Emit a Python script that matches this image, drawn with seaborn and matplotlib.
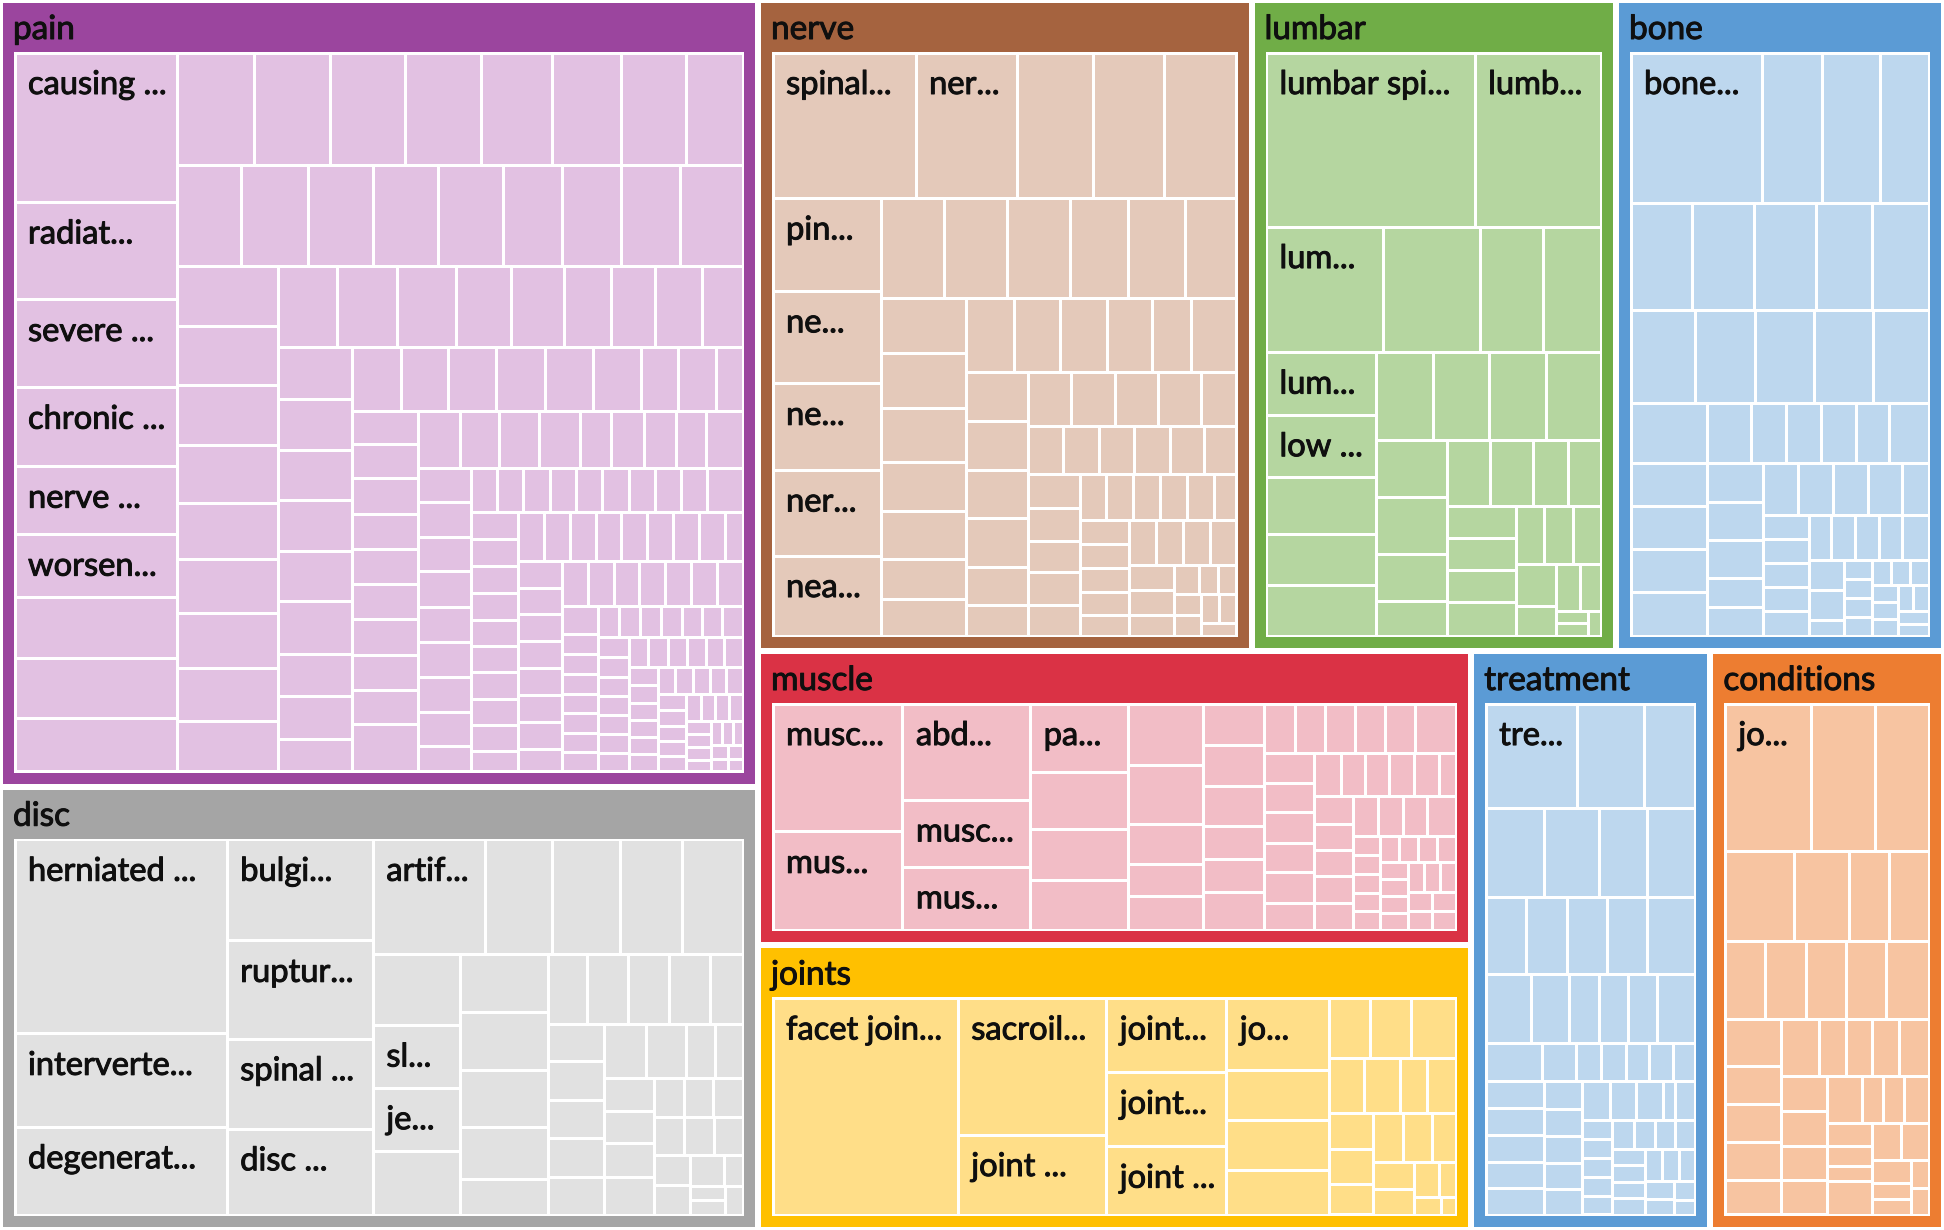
import matplotlib
matplotlib.use("Agg")
import matplotlib.pyplot as plt
from matplotlib.patches import Rectangle
import matplotlib.patheffects as pe
import seaborn as sns

# ---------------- data ----------------
groups = ["pain", "disc", "nerve", "lumbar", "bone", "muscle", "joints", "treatment", "conditions"]
group_totals = [388.0, 218.6, 209.0, 154.4, 138.9, 136.6, 132.0, 90.1, 88.0]

pain_values = [
    158.5, 103.5, 93.0, 83.8, 72.1, 66.8, 64.2, 64.2, 56.3,
    56.2, 55.5, 55.2, 55.5, 52.0, 50.6, 47.8, 41.1,
    42.1, 43.7, 43.3, 42.7, 42.7, 38.9, 39.2, 38.9, 41.1,
    39.0, 39.0, 39.0, 38.2, 36.5, 35.7, 35.7, 34.8, 33.2,
    30.8, 31.3, 30.6, 28.8, 27.6, 24.6, 23.0, 24.6, 21.3,
    25.0, 24.4, 24.4, 24.4, 23.7, 25.6, 20.0, 20.6, 15.6,
    20.4, 19.8, 19.8, 20.4, 20.2, 20.2, 15.5, 15.9, 10.9,
    14.2, 14.7, 15.6, 15.2, 15.2, 15.1, 15.5, 15.1, 14.8, 20.4,
    15.3, 14.6, 14.9, 14.9, 11.6, 12.2, 11.8, 11.2, 13.6,
    11.9, 11.9, 11.9, 12.2, 12.1, 12.1, 12.0, 11.9, 8.7,
    7.4, 7.7, 7.7, 7.6, 7.7, 7.7, 7.6, 7.7, 7.4, 10.4,
    8.1, 8.1, 8.2, 8.0, 8.0, 8.0, 7.9, 7.9, 7.9, 6.2,
    8.1, 8.3, 8.1, 8.1, 8.1, 8.1, 8.1, 8.3, 5.5,
    7.7, 7.7, 7.7, 7.7, 7.7, 7.7, 7.7, 6.5,
    7.6, 7.6, 7.6, 7.6, 7.6, 7.6, 7.6,
    6.5, 4.6, 4.6, 4.6, 4.5, 4.5, 4.5, 4.4, 4.4, 4.3, 4.3, 4.2, 4.2, 4.1, 4.1,
    4.0, 4.0, 3.9, 3.9, 3.9, 3.8, 3.8, 3.7, 3.7, 3.6, 3.6, 3.5, 3.5, 3.4, 3.4,
    3.3, 3.3, 3.2, 3.2, 3.1, 3.1, 3.0, 3.0, 2.9, 2.9, 2.8, 2.8, 2.7, 2.7, 2.6,
    2.5, 2.4, 2.3, 2.2, 2.1, 2.0, 1.9, 1.8, 1.7, 1.6, 1.5, 1.4, 1.3, 1.2,
]
pain_labels = {0: "causing ...", 1: "radiat...", 2: "severe ...", 3: "chronic ...",
               4: "nerve ...", 5: "worsen..."}

nerve_values = [
    135.1, 95.4, 72.0, 67.3, 67.9,
    65.6, 65.3, 61.2, 60.4, 56.5,
    41.1, 41.1, 40.7, 37.9, 36.9, 33.5,
    30.3, 30.0, 29.8, 27.1, 26.9, 22.0, 20.0,
    22.5, 22.1, 22.1, 21.8, 18.1, 21.6,
    19.6, 19.4, 19.2, 19.4, 15.1, 12.3,
    15.5, 15.7, 15.3, 15.3, 12.4,
    11.0, 11.1, 11.0, 11.1, 10.5, 10.1,
    11.3, 11.2, 10.7, 11.1, 10.4,
    7.9, 8.2, 8.1, 7.9, 8.1, 6.7,
    7.6, 7.6, 7.6, 7.5, 6.5,
    7.8, 7.7, 7.7, 7.6,
    7.5, 7.3, 6.0, 4.7, 3.6, 3.5, 3.5, 3.5, 3.3, 3.2, 3.0,
]
nerve_labels = {0: "spinal...", 1: "ner...", 5: "pin...", 6: "ne...", 7: "ne...",
                8: "ner...", 9: "nea..."}

lumbar_values = [
    236.6, 142.7,
    95.3, 79.9, 51.0, 47.4,
    44.8, 44.3, 40.7, 36.9, 36.0,
    32.6, 32.4, 32.6, 31.3,
    26.2, 26.4, 21.8, 15.8,
    18.8, 18.4, 15.1, 13.8,
    14.5, 14.3, 14.1, 15.2,
    10.8, 11.0, 10.4,
    11.0, 7.9, 7.2, 6.4, 2.5, 2.5, 2.0,
]
lumbar_labels = {0: "lumbar spi...", 1: "lumb...", 2: "lum...", 6: "lum...", 7: "low ..."}

bone_values = [
    128.7, 59.5, 57.2, 47.3,
    43.2, 43.6, 42.9, 39.7, 39.4,
    39.1, 36.3, 35.7, 35.7, 33.7,
    29.7, 16.8, 13.5, 13.5, 13.5, 13.1, 15.1,
    21.5, 21.5, 21.5, 21.9,
    14.4, 13.9, 13.9, 10.6, 10.6,
    11.9, 11.8, 11.8, 11.7, 9.0,
    7.2, 7.0, 7.2, 7.2, 7.2,
    6.6, 7.1, 7.1, 6.9, 7.7,
    7.0, 7.0, 3.5, 3.4, 3.4, 3.4, 3.3, 3.2, 3.1, 3.0, 2.9, 2.8, 2.8, 2.6, 2.6, 2.5, 2.4,
]
bone_labels = {0: "bone..."}

disc_values = [
    269.3, 129.6, 121.7,
    96.6, 94.0, 86.1, 81.9,
    83.7, 50.5, 50.5, 46.9, 45.1,
    40.5, 35.6, 36.0, 36.0,
    33.5, 33.3, 32.7, 29.7, 20.5,
    18.2, 18.7, 18.7, 18.7, 14.7,
    14.0, 14.5, 14.0, 14.5, 14.0,
    14.9, 14.2, 10.3, 9.8,
    10.7, 10.2, 11.0, 12.1,
    7.8, 7.4, 7.4, 7.4, 7.4, 7.1, 7.1, 7.1, 6.9, 3.8, 3.3, 3.3, 3.3,
]
disc_labels = {0: "herniated ...", 1: "interverte...", 2: "degenerat...", 3: "bulgi...",
               4: "ruptur...", 5: "spinal ...", 6: "disc ...", 7: "artif...",
               13: "sl...", 14: "je..."}

muscle_values = [
    108.0, 83.3,
    80.0, 55.5, 52.5,
    43.7, 36.1, 32.6, 31.9,
    29.9, 29.0, 19.7, 15.8, 16.4,
    16.5, 16.0, 15.6, 13.3, 13.0, 14.9,
    10.0, 9.7, 9.7, 10.0, 9.7, 13.1,
    9.4, 9.6, 10.1, 9.4, 9.8, 8.8,
    7.4, 6.7, 6.6, 7.0, 7.0, 4.5,
    7.0, 6.7, 6.7, 6.7, 6.9,
    6.5, 6.4, 6.4, 7.4,
    3.4, 3.3, 3.3, 3.3, 3.3, 3.2, 3.2, 3.2, 3.2, 3.1,
    3.1, 3.1, 3.1, 3.1, 3.1, 3.0, 3.0, 3.0, 3.0, 2.9,
]
muscle_labels = {0: "musc...", 1: "mus...", 2: "abd...", 3: "musc...", 4: "mus...", 5: "pa..."}

joints_values = [
    262.5,
    132.7, 77.7,
    58.3, 58.1, 53.7,
    48.0, 34.1, 33.3, 29.7,
    16.3, 16.1, 17.4,
    12.8, 12.8, 9.9, 10.2,
    10.5, 10.5, 8.8,
    9.5, 9.2, 7.6,
    7.3, 6.7, 5.8, 3.8, 3.1, 1.7,
]
joints_labels = {0: "facet join...", 1: "sacroil...", 2: "joint ...", 3: "joint...",
                 4: "joint...", 5: "joint ...", 6: "jo..."}

treatment_values = [
    62.3, 46.1, 34.9,
    34.0, 31.5, 27.6, 27.9,
    20.5, 20.4, 20.4, 19.9, 24.3,
    20.2, 17.3, 13.5, 12.8, 13.3, 17.0,
    14.2, 8.6, 6.2, 6.2, 5.8, 6.2, 5.4,
    10.3, 10.1, 10.1, 10.0, 10.0,
    7.0, 6.9, 6.8, 6.6, 6.5,
    7.0, 6.6, 6.8, 3.1, 4.9,
    3.6, 3.6, 3.6, 3.6, 3.6,
    4.3, 4.0, 3.8, 3.8, 3.6, 3.6, 3.6, 3.6, 3.6, 3.5, 3.4, 3.2, 3.0, 2.5, 2.0,
]
treatment_labels = {0: "tre..."}

conditions_values = [
    83.6, 63.0, 52.0,
    41.5, 32.7, 24.1, 23.5,
    20.4, 20.9, 20.4, 20.6, 21.7,
    17.3, 14.0, 14.0, 14.2, 12.7,
    14.6, 10.2, 10.1, 10.0, 11.4,
    10.8, 10.8, 10.5, 10.6,
    10.5, 6.7, 6.3, 7.5,
    7.0, 5.6, 4.6, 9.8,
    7.2, 6.8, 6.1, 4.1, 4.0, 3.2, 3.0,
]
conditions_labels = {0: "jo..."}

# ---------------- layout / style settings ----------------
top_strips = "c2 r3 c2 r2"
group_strips = {
    "pain": "c9 r8 r9 c9 r9 c9 r9 c10 r9 c9 r10 c10 r9 c8 r7",
    "nerve": "r5 c5 r6 c7 r6 c6 r5 r6 c5 r6 c5 r4",
    "lumbar": "r2 r4 c5 r4 c4 r4 c4 r3",
    "bone": "r4 r5 r5 r7 c4 c5 r5 c5 r5",
    "disc": "c3 c4 r5 c4 c5 r5 c5 r4 c4",
    "muscle": "c2 c3 c4 c5 c6 r6 c6 r6 c5 r4",
    "joints": "c1 c2 c3 c4 r3 r4 c3 r3",
    "treatment": "r3 r4 r5 r6 r7 c5 c5 r5 c5",
    "conditions": "r3 r4 r5 c5 r5 c4 r4 c4",
}
group_data = {
    "pain": (pain_values, pain_labels),
    "nerve": (nerve_values, nerve_labels),
    "lumbar": (lumbar_values, lumbar_labels),
    "bone": (bone_values, bone_labels),
    "disc": (disc_values, disc_labels),
    "muscle": (muscle_values, muscle_labels),
    "joints": (joints_values, joints_labels),
    "treatment": (treatment_values, treatment_labels),
    "conditions": (conditions_values, conditions_labels),
}
header_colors = {
    "pain": "#9B459E", "nerve": "#A5633F", "lumbar": "#70AD47", "bone": "#5B9BD5",
    "disc": "#A5A5A5", "muscle": "#DA3245", "joints": "#FFC000", "treatment": "#5B9BD5",
    "conditions": "#ED7D31",
}
cell_colors = {
    "pain": "#E2C1E2", "nerve": "#E4C9BA", "lumbar": "#B5D6A0", "bone": "#BDD7EE",
    "disc": "#E1E1E1", "muscle": "#F2BDC6", "joints": "#FFDE88", "treatment": "#BDD7EE",
    "conditions": "#F7C4A1",
}

W, H = 1944, 1230
GROUP_INSET = 3.0
HEADER = 49.0
SIDE = 11.0
CELL_INSET = 1.5
GROUP_FONT = 24
CELL_FONT = 23.5
TEXT_COLOR = "#0F0F0F"
TEXT_FX = [pe.withStroke(linewidth=0.7, foreground=TEXT_COLOR)]

PHI = (1 + 5 ** 0.5) / 2


def squarify(values, rect):
    x0, y0, x1, y1 = rect
    out = []
    n = len(values)
    i0 = i1 = 0
    value = float(sum(values))
    while i0 < n:
        dx, dy = x1 - x0, y1 - y0
        sum_v = values[i1]
        i1 += 1
        min_v = max_v = sum_v
        alpha = max(dy / max(dx, 1e-9), dx / max(dy, 1e-9)) / (value * PHI)
        beta = sum_v * sum_v * alpha
        min_ratio = max(max_v / beta, beta / min_v)
        while i1 < n:
            nv = values[i1]
            s2 = sum_v + nv
            mn, mx = min(min_v, nv), max(max_v, nv)
            beta = s2 * s2 * alpha
            new_ratio = max(mx / beta, beta / mn)
            if new_ratio > min_ratio:
                break
            sum_v, min_v, max_v, min_ratio = s2, mn, mx, new_ratio
            i1 += 1
        row = values[i0:i1]
        if dx < dy:
            h = dy * sum_v / value
            cx = x0
            for v in row:
                w = dx * v / sum_v
                out.append((cx, y0, cx + w, y0 + h))
                cx += w
            y0 += h
        else:
            w = dx * sum_v / value
            cy = y0
            for v in row:
                h = dy * v / sum_v
                out.append((x0, cy, x0 + w, cy + h))
                cy += h
            x0 += w
        value -= sum_v
        i0 = i1
    return out


def strip_layout(values, rect, strips):
    x0, y0, x1, y1 = rect
    out = []
    i = 0
    for s in strips.split():
        kind, k = s[0], int(s[1:])
        chunk = values[i:i + k]
        csum = float(sum(chunk))
        frac = csum / float(sum(values[i:]))
        if kind == "r":
            h = (y1 - y0) * frac
            cx = x0
            for v in chunk:
                w = (x1 - x0) * v / csum
                out.append((cx, y0, cx + w, y0 + h))
                cx += w
            y0 += h
        else:
            w = (x1 - x0) * frac
            cy = y0
            for v in chunk:
                h = (y1 - y0) * v / csum
                out.append((x0, cy, x0 + w, cy + h))
                cy += h
            x0 += w
        i += k
    if i < len(values):
        out += squarify(values[i:], (x0, y0, x1, y1))
    return out


sns.set_theme(style="white")
plt.rcParams["font.family"] = ["Lato", "DejaVu Sans"]

fig = plt.figure(figsize=(W / 100, H / 100), dpi=100)
ax = fig.add_axes([0, 0, 1, 1])
ax.set_xlim(0, W)
ax.set_ylim(H, 0)
ax.axis("off")
fig.patch.set_facecolor("white")

group_rects = strip_layout(group_totals, (0, 0, W, H), top_strips)

for name, (gx0, gy0, gx1, gy1) in zip(groups, group_rects):
    gx0 += GROUP_INSET; gy0 += GROUP_INSET; gx1 -= GROUP_INSET; gy1 -= GROUP_INSET
    ax.add_patch(Rectangle((gx0, gy0), gx1 - gx0, gy1 - gy0, facecolor=header_colors[name],
                           edgecolor="none", lw=0))
    ax.text(gx0 + 10, gy0 + 36, name, fontsize=GROUP_FONT, color=TEXT_COLOR,
            ha="left", va="baseline", path_effects=TEXT_FX)
    ix0, iy0, ix1, iy1 = gx0 + SIDE, gy0 + HEADER, gx1 - SIDE, gy1 - SIDE
    ax.add_patch(Rectangle((ix0, iy0), ix1 - ix0, iy1 - iy0, facecolor="white", edgecolor="none", lw=0))
    vals, labels = group_data[name]
    cells = strip_layout(vals, (ix0 + 1, iy0 + 1, ix1 - 1, iy1 - 1), group_strips[name])
    for j, (cx0, cy0, cx1, cy1) in enumerate(cells):
        ax.add_patch(Rectangle((cx0 + CELL_INSET, cy0 + CELL_INSET),
                               max(cx1 - cx0 - 2 * CELL_INSET, 0.5),
                               max(cy1 - cy0 - 2 * CELL_INSET, 0.5),
                               facecolor=cell_colors[name], edgecolor="none", lw=0))
        if j in labels:
            ax.text(cx0 + 13, cy0 + 41, labels[j], fontsize=CELL_FONT, color=TEXT_COLOR,
                    ha="left", va="baseline", path_effects=TEXT_FX)

fig.savefig("out.png", dpi=100, facecolor="white")
